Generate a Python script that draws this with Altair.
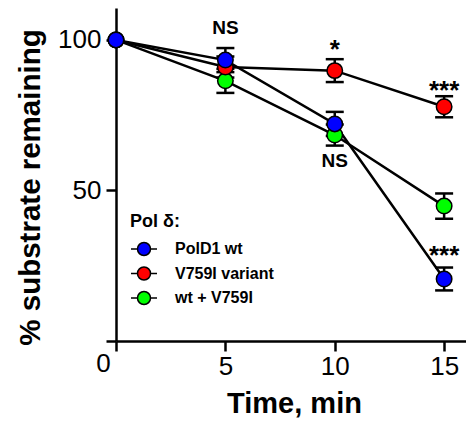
import altair as alt
import pandas as pd

time = [0, 5, 10, 15]
series_names = ["PolD1 wt", "V759I variant", "wt + V759I"]
colors = ["#0000FF", "#FF0000", "#00FF00"]
wt = [100, 93.3, 72.1, 20.6]
wt_err = [0, 4.0, 4.0, 3.8]
variant = [100, 91.0, 89.8, 77.8]
variant_err = [0, 3.5, 3.8, 3.5]
mix = [100, 86.4, 68.4, 44.8]
mix_err = [0, 4.0, 3.5, 4.2]

ann_text = ["NS", "*", "***", "NS", "***"]
ann_time = [5, 10, 15, 10, 15]
ann_value = [104.0, 96.6, 83.0, 59.8, 28.2]
ann_size = [19, 26, 26, 19, 26]

rows = []
# draw order: green, red, blue (blue on top)
for name, vals, errs in [("wt + V759I", mix, mix_err),
                         ("V759I variant", variant, variant_err),
                         ("PolD1 wt", wt, wt_err)]:
    for t, v, e in zip(time, vals, errs):
        rows.append({"series": name, "time": t, "value": v, "err": e,
                     "lo": v - e, "hi": v + e})
df = pd.DataFrame(rows)
err_df = df[df["err"] > 0]
ann_df = pd.DataFrame({"text": ann_text, "time": ann_time, "value": ann_value,
                       "size": ann_size})
zero_df = pd.DataFrame({"text": ["0"], "time": [0], "value": [0]})

FONT = "Liberation Sans"
xscale = alt.Scale(domain=[0, 16.0], nice=False, zero=False)
yscale = alt.Scale(domain=[0, 110.6], nice=False)
axis_common = dict(domainColor="black", domainWidth=2.5, tickColor="black",
                   tickWidth=2.5, tickSize=10, labelFont=FONT, labelFontSize=26,
                   labelColor="black", grid=False, titleFont=FONT,
                   titleFontWeight="bold", titleColor="black")
xaxis = alt.Axis(values=[0, 5, 10, 15], labelExpr="datum.value == 0 ? '' : datum.label",
                 title="Time, min", labelPadding=2, titleX=178, titleY=62,
                 titleFontSize=29,
                 titleAlign="center", titleBaseline="middle", **axis_common)
yaxis = alt.Axis(values=[0, 50, 100], labelExpr="datum.value == 0 ? '' : datum.label",
                 title="% substrate remaining", labelPadding=5, titleX=-86, titleY=179,
                 titleFontSize=29.5,
                 titleAlign="center", titleBaseline="middle", **axis_common)

def X(f):
    return alt.X(f, scale=xscale, axis=xaxis)

def Y(f):
    return alt.Y(f, scale=yscale, axis=yaxis)

lines = alt.Chart(df).mark_line(color="black", strokeWidth=2.5).encode(
    x=X("time:Q"), y=Y("value:Q"), detail="series:N")

err_rule = alt.Chart(err_df).mark_rule(color="black", strokeWidth=2.5).encode(
    x=X("time:Q"), y=Y("lo:Q"), y2="hi:Q")
cap_lo = alt.Chart(err_df).mark_tick(orient="horizontal", size=18, thickness=2.5,
                                     color="black", opacity=1).encode(x=X("time:Q"), y=Y("lo:Q"))
cap_hi = alt.Chart(err_df).mark_tick(orient="horizontal", size=18, thickness=2.5,
                                     color="black", opacity=1).encode(x=X("time:Q"), y=Y("hi:Q"))

sym_path = "M-1,0L-0.5,0M0.5,0L1,0M-0.5,0A0.5,0.5,0,1,0,0.5,0A0.5,0.5,0,1,0,-0.5,0Z"
legend = alt.Legend(title="Pol δ:", orient="none", legendX=14, legendY=205,
                    symbolType=sym_path, symbolSize=676, symbolStrokeColor="black",
                    symbolStrokeWidth=1.5, symbolOpacity=1,
                    labelFont=FONT, labelFontSize=16, labelFontWeight="bold",
                    labelColor="black", labelOffset=17,
                    titleFont=FONT, titleFontSize=18, titleFontWeight="bold",
                    titleColor="black", titlePadding=4, rowPadding=0.5, padding=0)

points = alt.Chart(df).mark_circle(size=240, opacity=1, stroke="black",
                                   strokeWidth=1.5).encode(
    x=X("time:Q"), y=Y("value:Q"),
    fill=alt.Fill("series:N", scale=alt.Scale(domain=series_names, range=colors),
                  legend=legend))

ann = alt.Chart(ann_df).mark_text(font=FONT, fontWeight="bold",
                                  color="black", align="center", baseline="middle").encode(
    x=X("time:Q"), y=Y("value:Q"), text="text:N",
    size=alt.Size("size:Q", scale=None, legend=None))

zero = alt.Chart(zero_df).mark_text(font=FONT, fontSize=26, color="black",
                                    align="center", baseline="middle",
                                    dx=-12.5, dy=22.5).encode(
    x=X("time:Q"), y=Y("value:Q"), text="text:N")

chart = alt.layer(err_rule, cap_lo, cap_hi, lines, points, ann, zero).properties(
    width=350, height=333,
    autosize=alt.AutoSizeParams(type="none"),
    padding={"left": 108, "top": 0, "right": 0, "bottom": 77},
).configure_view(stroke=None)

chart.save("out.html", embed_options={"renderer": "svg", "actions": False})
